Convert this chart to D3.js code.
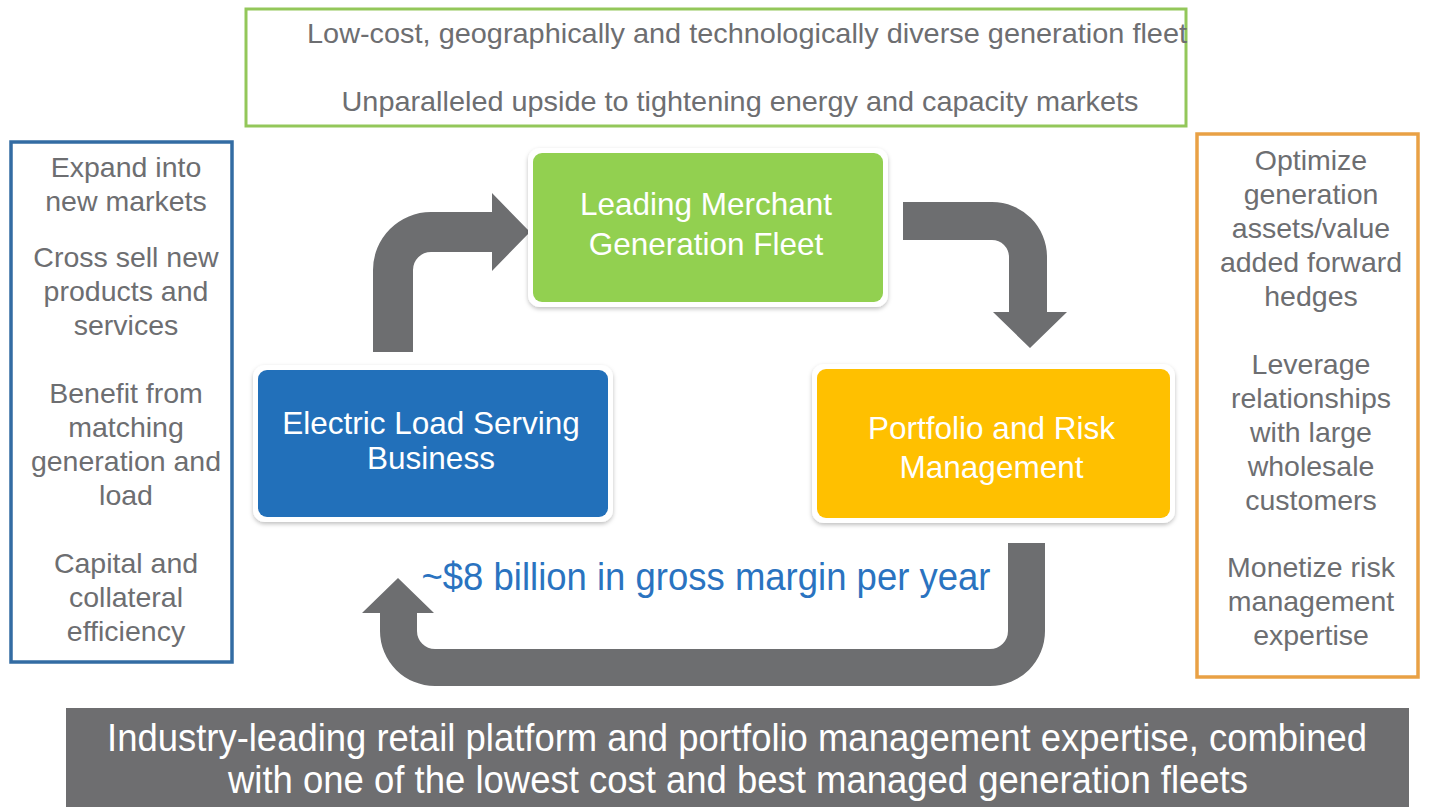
<!DOCTYPE html>
<html>
<head>
<meta charset="utf-8">
<script src="https://cdn.jsdelivr.net/npm/d3@7"></script>
<style>
  html, body { margin: 0; padding: 0; background: #fff; overflow: hidden; }
  svg { display: block; }
</style>
</head>
<body>
<script>
// text content
const topLines = [
  "Low-cost, geographically and technologically diverse generation fleet",
  "Unparalleled upside to tightening energy and capacity markets"
];
const leftItems = [
  ["Expand into", "new markets"],
  ["Cross sell new", "products and", "services"],
  ["Benefit from", "matching", "generation and", "load"],
  ["Capital and", "collateral", "efficiency"]
];
const rightItems = [
  ["Optimize", "generation", "assets/value", "added forward", "hedges"],
  ["Leverage", "relationships", "with large", "wholesale", "customers"],
  ["Monetize risk", "management", "expertise"]
];
const boxNames = ["generation", "load", "portfolio"];
const boxLabels = [
  ["Leading Merchant", "Generation Fleet"],
  ["Electric Load Serving", "Business"],
  ["Portfolio and Risk", "Management"]
];
const marginLabel = "~$8 billion in gross margin per year";
const footerLines = [
  "Industry-leading retail platform and portfolio management expertise, combined",
  "with one of the lowest cost and best managed generation fleets"
];

const W = 1429, H = 807;
const grey = "#6d6e71";
const arrowGrey = "#6d6e70";
const sans = "'Liberation Sans', Arial, sans-serif";

// layout (narrow type is drawn as Liberation Sans squeezed to the widths below)
const topPos = [{x: 747, y: 33, w: 880}, {x: 740, y: 101, w: 797}];
const footerPos = [{x: 737, y: 738, w: 1260}, {x: 738, y: 780, w: 1020}];
const marginPos = {x: 706, y: 577, w: 569};
const boxLayout = {
  generation: {x: 533, y: 153, w: 350, h: 149, fill: "#92d050", ty: [204, 244]},
  load:       {x: 258, y: 370, w: 350, h: 147, fill: "#2270ba", ty: [423, 458]},
  portfolio:  {x: 817, y: 369, w: 353, h: 149, fill: "#ffc000", ty: [428, 467]}
};
const leftStarts = [167, 257, 393, 563];
const rightStarts = [160, 364, 567];

const svg = d3.select("body").append("svg")
  .attr("width", W)
  .attr("height", H);

const defs = svg.append("defs");
const shadow = defs.append("filter").attr("id", "shadow")
  .attr("x", "-10%").attr("y", "-10%").attr("width", "120%").attr("height", "130%");
shadow.append("feDropShadow")
  .attr("dx", 0).attr("dy", 2).attr("stdDeviation", 2)
  .attr("flood-color", "#000").attr("flood-opacity", 0.25);

function narrowText(sel, size, color){
  return sel
    .attr("dy", "0.35em")
    .attr("text-anchor", "middle")
    .attr("lengthAdjust", "spacingAndGlyphs")
    .style("font-family", sans)
    .style("font-size", size + "px")
    .style("fill", color);
}

// top green outlined panel
svg.append("rect")
  .attr("x", 246).attr("y", 9).attr("width", 940).attr("height", 117)
  .attr("fill", "#fff").attr("stroke", "#93c75a").attr("stroke-width", 3);

svg.selectAll("text.top")
  .data(topLines)
  .enter().append("text")
  .attr("class", "top")
  .attr("x", (d, i) => topPos[i].x)
  .attr("y", (d, i) => topPos[i].y)
  .attr("textLength", (d, i) => topPos[i].w)
  .call(narrowText, 28, grey)
  .text(d => d);

// side panels
function sidePanel(items, starts, rect, color, cx){
  const g = svg.append("g");
  g.append("rect")
    .attr("x", rect[0]).attr("y", rect[1])
    .attr("width", rect[2]).attr("height", rect[3])
    .attr("fill", "#fff").attr("stroke", color).attr("stroke-width", 3.5);
  items.forEach((lines, k) => {
    g.selectAll(null)
      .data(lines)
      .enter().append("text")
      .attr("x", cx)
      .attr("y", (d, i) => starts[k] + i * 34)
      .attr("dy", "0.35em")
      .attr("text-anchor", "middle")
      .style("font-family", sans)
      .style("font-size", "28.5px")
      .style("fill", grey)
      .text(d => d);
  });
}
sidePanel(leftItems, leftStarts, [11, 142, 221, 520], "#336ca3", 126);
sidePanel(rightItems, rightStarts, [1197, 134, 221, 543], "#e9a145", 1311);

// arrows
function arrowUpRight(){
  const p = d3.path();
  p.moveTo(373, 352);
  p.lineTo(373, 270);
  p.arc(431, 270, 58, Math.PI, 1.5 * Math.PI);
  p.lineTo(492, 212);
  p.lineTo(492, 193);
  p.lineTo(530, 232);
  p.lineTo(492, 271);
  p.lineTo(492, 252);
  p.lineTo(431, 252);
  p.arc(431, 270, 18, 1.5 * Math.PI, Math.PI, true);
  p.lineTo(413, 352);
  p.closePath();
  return p.toString();
}
function arrowRightDown(){
  const p = d3.path();
  p.moveTo(903, 202);
  p.lineTo(992, 202);
  p.arc(992, 257, 55, 1.5 * Math.PI, 2 * Math.PI);
  p.lineTo(1047, 312);
  p.lineTo(1067, 312);
  p.lineTo(1030, 348);
  p.lineTo(993, 312);
  p.lineTo(1009, 312);
  p.lineTo(1009, 257);
  p.arc(992, 257, 17, 0, -0.5 * Math.PI, true);
  p.lineTo(903, 240);
  p.closePath();
  return p.toString();
}
function arrowReturn(){
  const p = d3.path();
  p.moveTo(1008, 543);
  p.lineTo(1045, 543);
  p.lineTo(1045, 631);
  p.arc(990, 631, 55, 0, 0.5 * Math.PI);
  p.lineTo(435, 686);
  p.arc(435, 631, 55, 0.5 * Math.PI, Math.PI);
  p.lineTo(380, 613);
  p.lineTo(362, 613);
  p.lineTo(398, 578);
  p.lineTo(434, 613);
  p.lineTo(417, 613);
  p.lineTo(417, 631);
  p.arc(435, 631, 18, Math.PI, 0.5 * Math.PI, true);
  p.lineTo(990, 649);
  p.arc(990, 631, 18, 0.5 * Math.PI, 0, true);
  p.closePath();
  return p.toString();
}
svg.selectAll("path.arrow")
  .data([arrowUpRight(), arrowRightDown(), arrowReturn()])
  .enter().append("path")
  .attr("class", "arrow")
  .attr("d", d => d)
  .attr("fill", arrowGrey);

// coloured boxes
const boxes = svg.selectAll("g.box")
  .data(boxNames)
  .enter().append("g")
  .attr("class", "box");

boxes.append("rect")
  .attr("x", d => boxLayout[d].x - 5)
  .attr("y", d => boxLayout[d].y - 5)
  .attr("width", d => boxLayout[d].w + 10)
  .attr("height", d => boxLayout[d].h + 10)
  .attr("rx", 12)
  .attr("fill", "#fff")
  .attr("filter", "url(#shadow)");

boxes.append("rect")
  .attr("x", d => boxLayout[d].x)
  .attr("y", d => boxLayout[d].y)
  .attr("width", d => boxLayout[d].w)
  .attr("height", d => boxLayout[d].h)
  .attr("rx", 9)
  .attr("fill", d => boxLayout[d].fill);

boxes.each(function(d, k){
  d3.select(this).selectAll("text")
    .data(boxLabels[k])
    .enter().append("text")
    .attr("x", boxLayout[d].x + boxLayout[d].w / 2 - 2)
    .attr("y", (t, i) => boxLayout[d].ty[i])
    .attr("dy", "0.35em")
    .attr("text-anchor", "middle")
    .style("font-family", sans)
    .style("font-size", "31.5px")
    .style("fill", "#fff")
    .text(t => t);
});

// margin label
svg.append("text")
  .attr("x", marginPos.x).attr("y", marginPos.y)
  .attr("textLength", marginPos.w)
  .call(narrowText, 38, "#2a73c0")
  .text(marginLabel);

// footer band
svg.append("rect")
  .attr("x", 66).attr("y", 708).attr("width", 1343).attr("height", H - 708)
  .attr("fill", "#6e6e70");

svg.selectAll("text.footer")
  .data(footerLines)
  .enter().append("text")
  .attr("class", "footer")
  .attr("x", (d, i) => footerPos[i].x)
  .attr("y", (d, i) => footerPos[i].y)
  .attr("textLength", (d, i) => footerPos[i].w)
  .call(narrowText, 38, "#fff")
  .text(d => d);
</script>
</body>
</html>
